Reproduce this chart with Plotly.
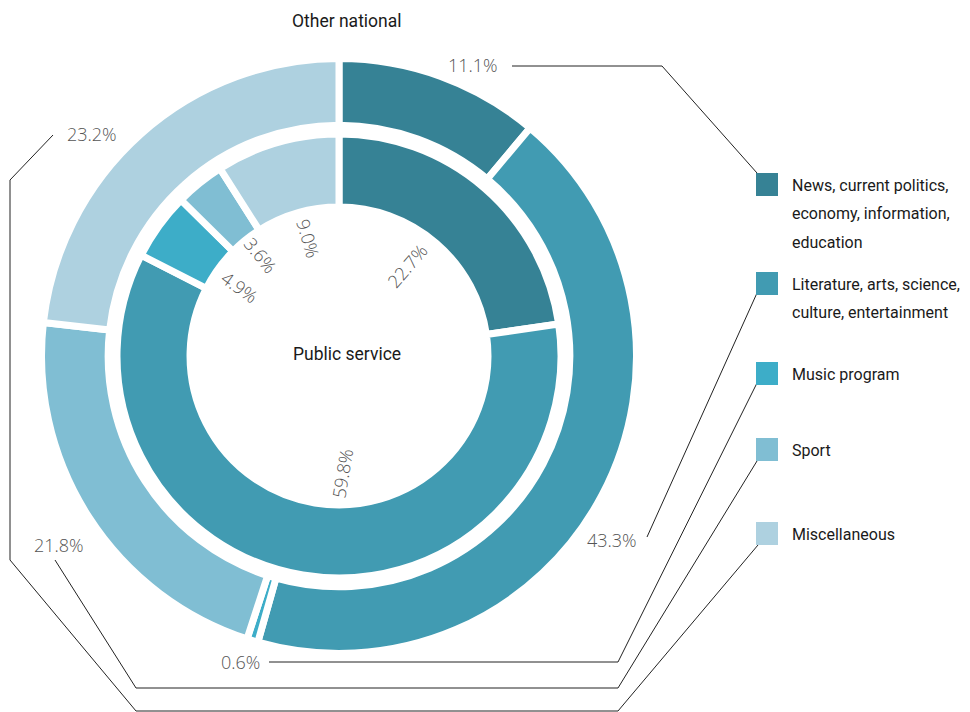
import math
import plotly.graph_objects as go

# Programme categories (shared by both rings)
categories = [
    "News, current politics, economy, information, education",
    "Literature, arts, science, culture, entertainment",
    "Music program",
    "Sport",
    "Miscellaneous",
]
legend_lines = [
    ["News, current politics,", "economy, information,", "education"],
    ["Literature, arts, science,", "culture, entertainment"],
    ["Music program"],
    ["Sport"],
    ["Miscellaneous"],
]
colors = ["#368295", "#419bb2", "#3dadc8", "#80bed3", "#aed1e0"]

# Share of broadcast time (%)
other_national = [11.1, 43.3, 0.6, 21.8, 23.2]
public_service = [22.7, 59.8, 4.9, 3.6, 9.0]

W, H = 970, 712
CX, CY = 339, 356          # ring centre in pixels
SEP = 7                    # white separator width
R_OUT, HOLE_OUT = 297.5, 0.776
R_IN, HOLE_IN = 222.0, 0.671

LABEL_FONT = dict(family="Open Sans, sans-serif", size=18, color="#555555", weight=300)
NARROW_FONT = dict(family="Roboto, sans-serif", size=17.5, color="#1a1a1a")


def domain(r):
    return dict(x=[(CX - r) / W, (CX + r) / W], y=[1 - (CY + r) / H, 1 - (CY - r) / H])


fig = go.Figure()
for vals, r, hole in [(other_national, R_OUT, HOLE_OUT), (public_service, R_IN, HOLE_IN)]:
    fig.add_trace(go.Pie(
        labels=categories, values=vals, sort=False, direction="clockwise", rotation=0,
        hole=hole, domain=domain(r), textinfo="none", hoverinfo="label+percent",
        marker=dict(colors=colors, line=dict(color="white", width=SEP)),
        showlegend=False,
    ))

annotations = []
shapes = []

# Inner-ring percentages, set radially just inside the hole
# (small angular nudges / radii keep them clear of one another)
inner_nudge_deg = [-4, -11, -1, 1, 1.6]
inner_radius = [113, 117, 121, 128, 122]
total = sum(public_service)
cum = 0.0
for v, nudge, rr in zip(public_service, inner_nudge_deg, inner_radius):
    mid = (cum + v / 2) / total * 2 * math.pi
    cum += v
    pos = mid + math.radians(nudge)
    x = CX + rr * math.sin(pos)
    y = CY - rr * math.cos(pos)
    ang = math.degrees(math.atan2(-math.cos(mid), math.sin(mid)))
    if ang < -90:
        ang += 180
    elif ang > 90:
        ang -= 180
    annotations.append(dict(x=x, y=y, xref="x", yref="y", text=f"{v:.1f}%", showarrow=False,
                            textangle=ang, font=LABEL_FONT, xanchor="center", yanchor="middle"))

# Outer-ring percentages with leader lines running to the legend keys
outer_label_pos = [(473, 65), (612, 540), (240, 662), (59, 545), (92, 134)]
leader_paths = [
    [(512, 66), (662, 66), (757, 173)],
    [(647, 537), (757, 293)],
    [(269, 662), (618, 662), (757, 383)],
    [(55, 560), (136, 688), (618, 688), (757, 461)],
    [(53, 135), (10, 180), (10, 560), (136, 711), (618, 711), (758, 545)],
]
for v, (lx, ly), path in zip(other_national, outer_label_pos, leader_paths):
    annotations.append(dict(x=lx, y=ly, xref="x", yref="y", text=f"{v:.1f}%", showarrow=False,
                            font=LABEL_FONT, xanchor="center", yanchor="middle"))
    d = "M " + " L ".join(f"{px},{py}" for px, py in path)
    shapes.append(dict(type="path", path=d, xref="x", yref="y",
                       line=dict(color="#222222", width=1)))

# Legend keys
key_tops = [173, 272, 362, 438, 522]
for col, top, lines in zip(colors, key_tops, legend_lines):
    shapes.append(dict(type="rect", x0=756, x1=778, y0=top, y1=top + 23, xref="x", yref="y",
                       fillcolor=col, line=dict(width=0)))
    for i, ln in enumerate(lines):
        annotations.append(dict(x=790, y=top + 12 + i * 28.5, xref="x", yref="y", text=ln,
                                showarrow=False, font=dict(NARROW_FONT, size=16),
                                xanchor="left", yanchor="middle"))

# Ring titles
annotations.append(dict(x=347, y=21, xref="x", yref="y", text="Other national", showarrow=False,
                        font=NARROW_FONT, xanchor="center", yanchor="middle"))
annotations.append(dict(x=347, y=354, xref="x", yref="y", text="Public service", showarrow=False,
                        font=NARROW_FONT, xanchor="center", yanchor="middle"))

fig.update_layout(
    width=W, height=H, margin=dict(l=0, r=0, t=0, b=0),
    paper_bgcolor="white", plot_bgcolor="rgba(0,0,0,0)",
    xaxis=dict(range=[0, W], visible=False, fixedrange=True),
    yaxis=dict(range=[H, 0], visible=False, fixedrange=True),
    annotations=annotations, shapes=shapes, showlegend=False,
)

fig.write_html("out.html")
